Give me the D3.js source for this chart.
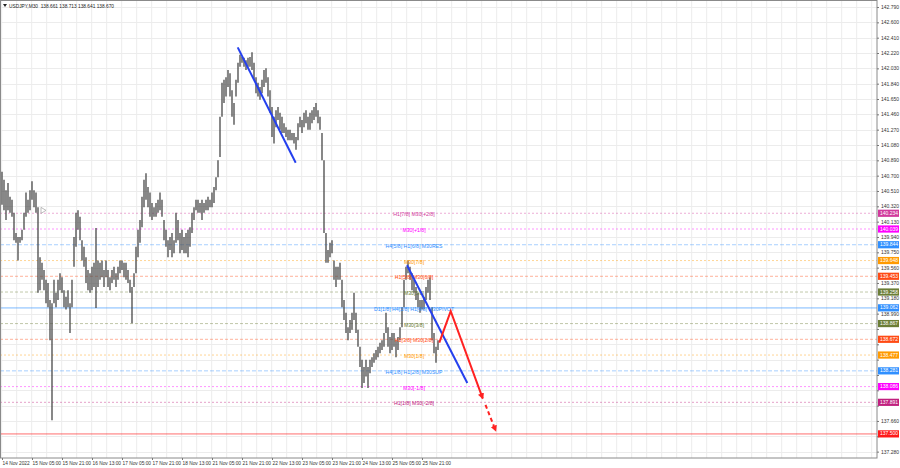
<!DOCTYPE html>
<html><head><meta charset="utf-8">
<script src="https://cdn.jsdelivr.net/npm/d3@7"></script>
<style>
body{margin:0;background:#fff}
svg{display:block;font-family:"Liberation Sans",Arial,sans-serif}
</style>
</head><body>
<svg id="c" width="900" height="468"></svg>
<script>
// ---------- DATA ----------
const symbolTitle = "USDJPY,M30  138.661 138.713 138.641 138.670";
const timeLabels = ["14 Nov 2022","15 Nov 05:00","15 Nov 21:00","16 Nov 13:00","17 Nov 05:00","17 Nov 21:00","18 Nov 13:00","21 Nov 05:00","21 Nov 21:00","22 Nov 13:00","23 Nov 05:00","23 Nov 21:00","24 Nov 13:00","25 Nov 05:00","25 Nov 21:00"];
const priceTicks = [142.790,142.600,142.410,142.220,142.030,141.840,141.650,141.460,141.270,141.080,140.890,140.700,140.510,140.320,140.130,139.940,139.750,139.560,139.370,139.180,138.990,138.800,138.610,138.420,138.230,138.040,137.850,137.660,137.470,137.280];
const barHigh = [140.75,140.65,140.52,140.61,140.44,140.40,140.24,139.99,139.94,139.94,
140.03,140.24,140.49,140.40,140.52,140.63,140.52,140.49,140.31,139.69,
139.62,139.53,139.41,139.37,139.16,139.12,139.41,139.25,139.41,139.49,
139.44,139.28,139.20,139.28,139.12,139.41,139.94,140.24,140.27,140.19,
139.90,139.82,139.69,139.53,139.49,139.57,139.62,140.05,139.65,139.62,
139.65,139.53,139.65,139.53,139.44,139.53,139.57,139.49,139.57,139.65,
139.65,139.62,139.62,139.53,139.41,139.32,139.49,139.82,140.03,140.15,
140.44,140.65,140.73,140.56,140.49,140.36,140.31,140.36,140.40,140.49,
140.40,140.15,140.03,139.90,139.94,139.99,139.90,140.24,140.15,139.99,
140.03,139.94,139.99,140.03,140.06,140.24,140.31,140.40,140.40,140.36,
140.40,140.36,140.40,140.44,140.40,140.49,140.56,140.68,140.89,141.43,
141.85,141.89,141.92,142.01,141.97,141.76,141.60,141.89,142.10,142.20,
142.17,142.16,142.13,142.16,142.17,142.23,142.10,141.92,141.85,141.80,
141.89,142.01,142.03,141.92,141.76,141.55,141.43,141.51,141.55,141.48,
141.43,141.35,141.30,141.27,141.27,141.23,141.23,141.18,141.35,141.43,
141.39,141.48,141.51,141.43,141.48,141.51,141.55,141.60,141.51,141.43,
141.23,140.89,139.99,139.78,139.87,139.90,139.65,139.57,139.57,139.62,
139.41,139.16,139.00,138.82,138.91,139.00,139.25,139.00,138.79,138.58,
138.42,138.33,138.42,138.33,138.42,138.45,138.50,138.54,138.58,138.63,
138.66,138.75,139.00,138.82,138.70,138.75,138.75,138.66,138.70,138.82,
139.07,139.41,139.57,139.65,139.57,139.49,139.41,139.32,139.25,139.16,
139.16,139.20,139.32,139.41,139.44,139.07,138.75,138.58,138.66];
const barLow = [140.34,140.27,140.15,140.27,140.24,140.19,139.90,139.87,139.65,139.87,
139.90,140.03,140.19,140.24,140.27,140.40,140.31,140.24,139.25,139.28,
139.41,139.28,139.12,139.07,138.66,137.67,139.12,139.07,139.16,139.28,
139.25,139.07,139.04,139.07,138.75,139.07,139.57,139.82,140.03,139.90,
139.65,139.57,139.37,139.28,139.25,139.28,139.32,139.06,139.32,139.41,
139.44,139.32,139.44,139.32,139.28,139.37,139.41,139.32,139.41,139.49,
139.53,139.44,139.41,139.37,139.25,138.87,139.32,139.49,139.69,139.87,
140.06,140.31,140.40,140.31,140.19,140.15,140.19,140.19,140.24,140.27,
140.19,139.90,139.82,139.69,139.78,139.69,139.74,139.87,139.90,139.74,
139.78,139.74,139.74,139.69,139.82,139.99,140.15,140.27,140.24,140.24,
140.15,140.24,140.27,140.27,140.31,140.31,140.36,140.52,140.68,140.93,
141.43,141.60,141.68,141.80,141.68,141.43,141.33,141.68,141.85,142.05,
142.10,142.05,142.01,142.05,142.05,142.01,141.89,141.72,141.68,141.64,
141.72,141.80,141.85,141.68,141.48,141.18,141.10,141.30,141.39,141.27,
141.23,141.23,141.18,141.14,141.14,141.14,141.10,141.02,141.14,141.30,
141.23,141.30,141.35,141.27,141.27,141.35,141.39,141.43,141.35,141.27,
140.89,139.99,139.62,139.62,139.69,139.74,139.41,139.32,139.41,139.41,
139.07,138.91,138.75,138.66,138.75,138.79,138.91,138.75,138.58,138.33,
138.07,138.13,138.21,138.07,138.25,138.33,138.38,138.42,138.45,138.50,
138.54,138.58,138.75,138.58,138.50,138.54,138.58,138.45,138.54,138.66,
138.82,139.07,139.41,139.49,139.41,139.28,139.25,139.16,139.07,139.00,
139.04,139.04,139.16,139.25,139.16,138.66,138.50,138.38,138.54];
const levelPrices = [140.234,140.039,139.844,139.648,139.453,139.258,139.062,138.867,138.672,138.477,138.281,138.086,137.891,137.500];
const levelNames = ["H1[7/8] M30[+2/8]","M30[+1/8]","H4[5/8] H1[6/8] M30RES","M30[7/8]","H1[5/8] M30[6/8]","M30[5/8]","D1[1/8] H4[2/8] H1[4/8] M30PIVOT","M30[3/8]","H1[3/8] M30[2/8]","M30[1/8]","H4[1/8] H1[2/8] M30SUP","M30[-1/8]","H1[1/8] M30[-2/8]",""];
// trend objects: [bar index, price]
const blueLine1 = [[117.85,142.29],[146.85,140.86]];
const blueLine2 = [[202.5,139.59],[232.65,138.13]];
const redPath = [[218.65,138.63],[224.35,139.02],[240.35,137.94]];
const redDashed = [[241.75,137.86],[246.85,137.54]];
const markerPoint = [19.5,140.27];

// ---------- STYLE ----------
const levelColors = ["#d13a9c","#ff00ff","#2f8fff","#ff9a00","#ff4a14","#6b7d35","#2f8fff","#6b7d35","#ff4a14","#ff9a00","#2f8fff","#ff00ff","#c0207e","#ff1a1a"];
const levelDash = ["2,2","2,2","4,2","2,2","3,2","3,2",null,"3,2","3,2","2,2","4,2","2,2","2,2",null];

// ---------- CHART ----------
const svg = d3.select("#c");
const plotR = 877, plotB = 458;
const x = d3.scaleLinear().domain([0, 437.5]).range([2, 877]);
const y = d3.scaleLinear().domain([137.201, 142.877]).range([458, 0]);

const g = svg.append("g");
// grid
const vg = [];
for (let k = 0; x(k * 7.5) < plotR; k++) vg.push(k * 7.5);
g.selectAll(".vg").data(vg).enter().append("line")
  .attr("x1", d => x(d) - 0.3).attr("x2", d => x(d) - 0.3)
  .attr("y1", 0).attr("y2", plotB).attr("stroke", "#ececec").attr("stroke-width", 1);
g.selectAll(".hg").data(priceTicks).enter().append("line")
  .attr("x1", 0).attr("x2", plotR)
  .attr("y1", d => Math.round(y(d)) + 0.5).attr("y2", d => Math.round(y(d)) + 0.5)
  .attr("stroke", "#ececec").attr("stroke-width", 1);

// level lines
g.selectAll(".lv").data(levelPrices).enter().append("line")
  .attr("x1", 0).attr("x2", plotR)
  .attr("y1", d => y(d)).attr("y2", d => y(d))
  .attr("stroke", (d, i) => levelColors[i])
  .attr("stroke-opacity", (d, i) => levelDash[i] ? 0.42 : 0.36)
  .attr("stroke-width", (d, i) => levelDash[i] ? 1 : 1.6)
  .attr("stroke-dasharray", (d, i) => levelDash[i]);

// bars
g.selectAll(".bar").data(barHigh).enter().append("line")
  .attr("x1", (d, i) => x(i)).attr("x2", (d, i) => x(i))
  .attr("y1", d => y(d)).attr("y2", (d, i) => y(barLow[i]))
  .attr("stroke", "#474747").attr("stroke-width", 1.3);

// level text labels
g.selectAll(".lt").data(levelPrices).enter().append("text")
  .attr("x", x(206)).attr("y", d => y(d) + 1.6)
  .attr("text-anchor", "middle").attr("dominant-baseline", "middle")
  .attr("font-size", 5.2).attr("fill", (d, i) => levelColors[i])
  .text((d, i) => levelNames[i]);

// marker
svg.append("path")
  .attr("d", `M${x(markerPoint[0])},${y(markerPoint[1]) - 3} L${x(markerPoint[0]) + 5},${y(markerPoint[1])} L${x(markerPoint[0])},${y(markerPoint[1]) + 3}Z`)
  .attr("fill", "none").attr("stroke", "#aaa").attr("stroke-width", 0.8);

// arrow markers
const defs = svg.append("defs");
defs.append("marker").attr("id", "ah").attr("viewBox", "0 0 10 10").attr("refX", 8).attr("refY", 5)
  .attr("markerWidth", 3.2).attr("markerHeight", 3.2).attr("orient", "auto")
  .append("path").attr("d", "M0,0 L10,5 L0,10 Z").attr("fill", "#ff2222");

const line = d3.line().x(d => x(d[0])).y(d => y(d[1]));
svg.append("path").attr("d", line(blueLine1)).attr("stroke", "#2540ee").attr("stroke-width", 2).attr("fill", "none");
svg.append("path").attr("d", line(blueLine2)).attr("stroke", "#2540ee").attr("stroke-width", 2).attr("fill", "none");
svg.append("path").attr("d", line(redPath)).attr("stroke", "#ff2222").attr("stroke-width", 2).attr("fill", "none").attr("marker-end", "url(#ah)");
svg.append("path").attr("d", line(redDashed)).attr("stroke", "#ff2222").attr("stroke-width", 2).attr("fill", "none")
  .attr("stroke-dasharray", "4,3").attr("marker-end", "url(#ah)");

// frame
svg.append("rect").attr("x", 0.5).attr("y", 0.5).attr("width", plotR - 0.5).attr("height", plotB - 0.5)
  .attr("fill", "none").attr("stroke", "#8a8a8a").attr("stroke-width", 1);

// right axis (labels that sit under a price tag are hidden, as in the terminal)
const covered = p => levelPrices.some(l => Math.abs(y(l) - y(p)) < 5.6);
const ay = svg.append("g").attr("transform", `translate(${plotR},0)`)
  .call(d3.axisRight(y).tickValues(priceTicks).tickFormat(d => covered(d) ? "" : d3.format(".3f")(d)).tickSize(2).tickPadding(2));
ay.select(".domain").remove();
ay.selectAll("line").attr("stroke", "#777");
ay.selectAll("text").attr("font-size", 5).attr("fill", "#333").attr("font-family", "Liberation Sans, Arial, sans-serif");

// bottom axis
const ax = svg.append("g").attr("transform", `translate(0,${plotB})`)
  .call(d3.axisBottom(x).tickValues(timeLabels.map((d, i) => i * 15)).tickFormat((d, i) => timeLabels[i]).tickSize(2).tickPadding(2));
ax.select(".domain").remove();
ax.selectAll("line").attr("stroke", "#777");
ax.selectAll("text").attr("font-size", 4.8).attr("fill", "#333").attr("text-anchor", "start")
  .attr("font-family", "Liberation Sans, Arial, sans-serif");

// price tags
const tags = svg.append("g");
levelPrices.forEach((p, i) => {
  tags.append("rect").attr("x", plotR + 1).attr("y", y(p) - 3.6).attr("width", 21).attr("height", 7.2)
    .attr("fill", levelColors[i]);
  tags.append("text").attr("x", plotR + 3).attr("y", y(p) + 0.2).attr("dominant-baseline", "middle")
    .attr("font-size", 5).attr("fill", "#fff").text(p.toFixed(3));
});

// title
svg.append("path").attr("d", "M3,4 L7,4 L5,7 Z").attr("fill", "#222");
svg.append("text").attr("x", 9).attr("y", 7.5).attr("font-size", 4.8).attr("fill", "#222").attr("xml:space", "preserve").text(symbolTitle);
</script>
</body></html>
